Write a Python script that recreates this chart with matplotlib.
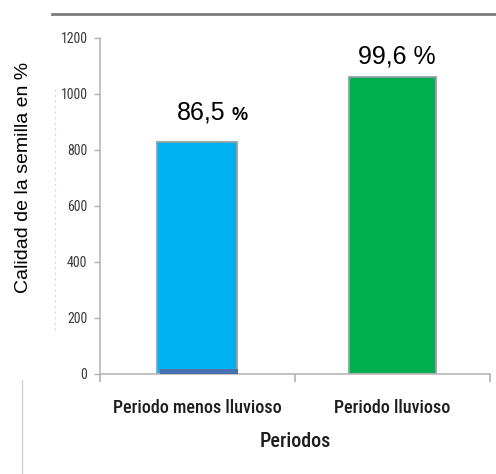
import matplotlib
matplotlib.use("Agg")
import matplotlib.pyplot as plt
from matplotlib.lines import Line2D

# Data
periodos = ["Periodo menos lluvioso", "Periodo lluvioso"]
valores = [830, 1060]
base_oscura = [18, 0]
etiquetas = ["86,5", "99,6"]
y_ticks = [0, 200, 400, 600, 800, 1000, 1200]

narrow = "Roboto Condensed"
arial = "Liberation Sans"

fig = plt.figure(figsize=(4.96, 4.74), dpi=100)
ax = fig.add_axes([0.2016, 0.211, 0.786, 0.709])

x = list(range(len(periodos)))
colores = ["#00B0F0", "#00B050"]
anchos = [0.41, 0.45]
ax.bar(x, valores, width=anchos, color=colores, edgecolor="#8fa3a8",
       linewidth=1.3, zorder=2)
ax.bar([x[0] + 0.01], [base_oscura[0]], width=0.40, color="#4A6FB0",
       linewidth=0, zorder=3)

ax.set_xlim(-0.5, 1.5)
ax.set_ylim(0, 1200)
ax.set_yticks(y_ticks)
ax.set_xticks(x)
ax.set_xticklabels(periodos, family=narrow, fontsize=13, fontweight="medium",
                   color="#1e1e1e")
ax.set_xticks([-0.5, 0.5, 1.5], minor=True)
ax.tick_params(axis="x", which="major", length=0, pad=18)
ax.tick_params(axis="x", which="minor", length=6, color="#b0b0b0", width=1.2)
ax.tick_params(axis="y", length=4, color="#b0b0b0", width=1.0, pad=5,
               labelcolor="#3a3a3a")
for lab in ax.get_yticklabels():
    lab.set_family(narrow)
    lab.set_fontsize(10)

for s in ["top", "right"]:
    ax.spines[s].set_visible(False)
for s in ["left", "bottom"]:
    ax.spines[s].set_color("#b8b8b8")
    ax.spines[s].set_linewidth(1.2)

ax.set_xlabel("Periodos", family=narrow, fontsize=14.5, fontweight="medium",
              color="#1e1e1e", labelpad=11)
ax.set_ylabel("Calidad de la semilla en %", family=arial, fontsize=14,
              color="black")
ax.yaxis.set_label_coords(-0.174, 0.586)

# Value labels above the bars
ax.annotate(etiquetas[0], xy=(x[0], valores[0]), xytext=(3, 21),
            textcoords="offset points", ha="center", va="center",
            family=arial, fontsize=18, color="black")
ax.annotate("%", xy=(x[0], valores[0]), xytext=(30.5, 19),
            textcoords="offset points", ha="center", va="center",
            family=arial, fontsize=13, fontweight="bold", color="black")
ax.annotate(etiquetas[1] + " %", xy=(x[1], valores[1]), xytext=(3, 15),
            textcoords="offset points", ha="center", va="center",
            family=arial, fontsize=18, color="black")

# Frame lines around the plot
fig.add_artist(Line2D([52 / 496, 1.0], [1 - 13.5 / 474] * 2,
                      transform=fig.transFigure, color="#7a7a7a", lw=2))
fig.add_artist(Line2D([22 / 496] * 2, [0, 1 - 380 / 474],
                      transform=fig.transFigure, color="#d0d0d0", lw=1))
fig.add_artist(Line2D([55 / 496] * 2, [1 - 330 / 474, 1 - 88 / 474],
                      transform=fig.transFigure, color="#d8d8d8", lw=0.8,
                      ls=(0, (2, 3))))

fig.savefig("out.png", dpi=100)
